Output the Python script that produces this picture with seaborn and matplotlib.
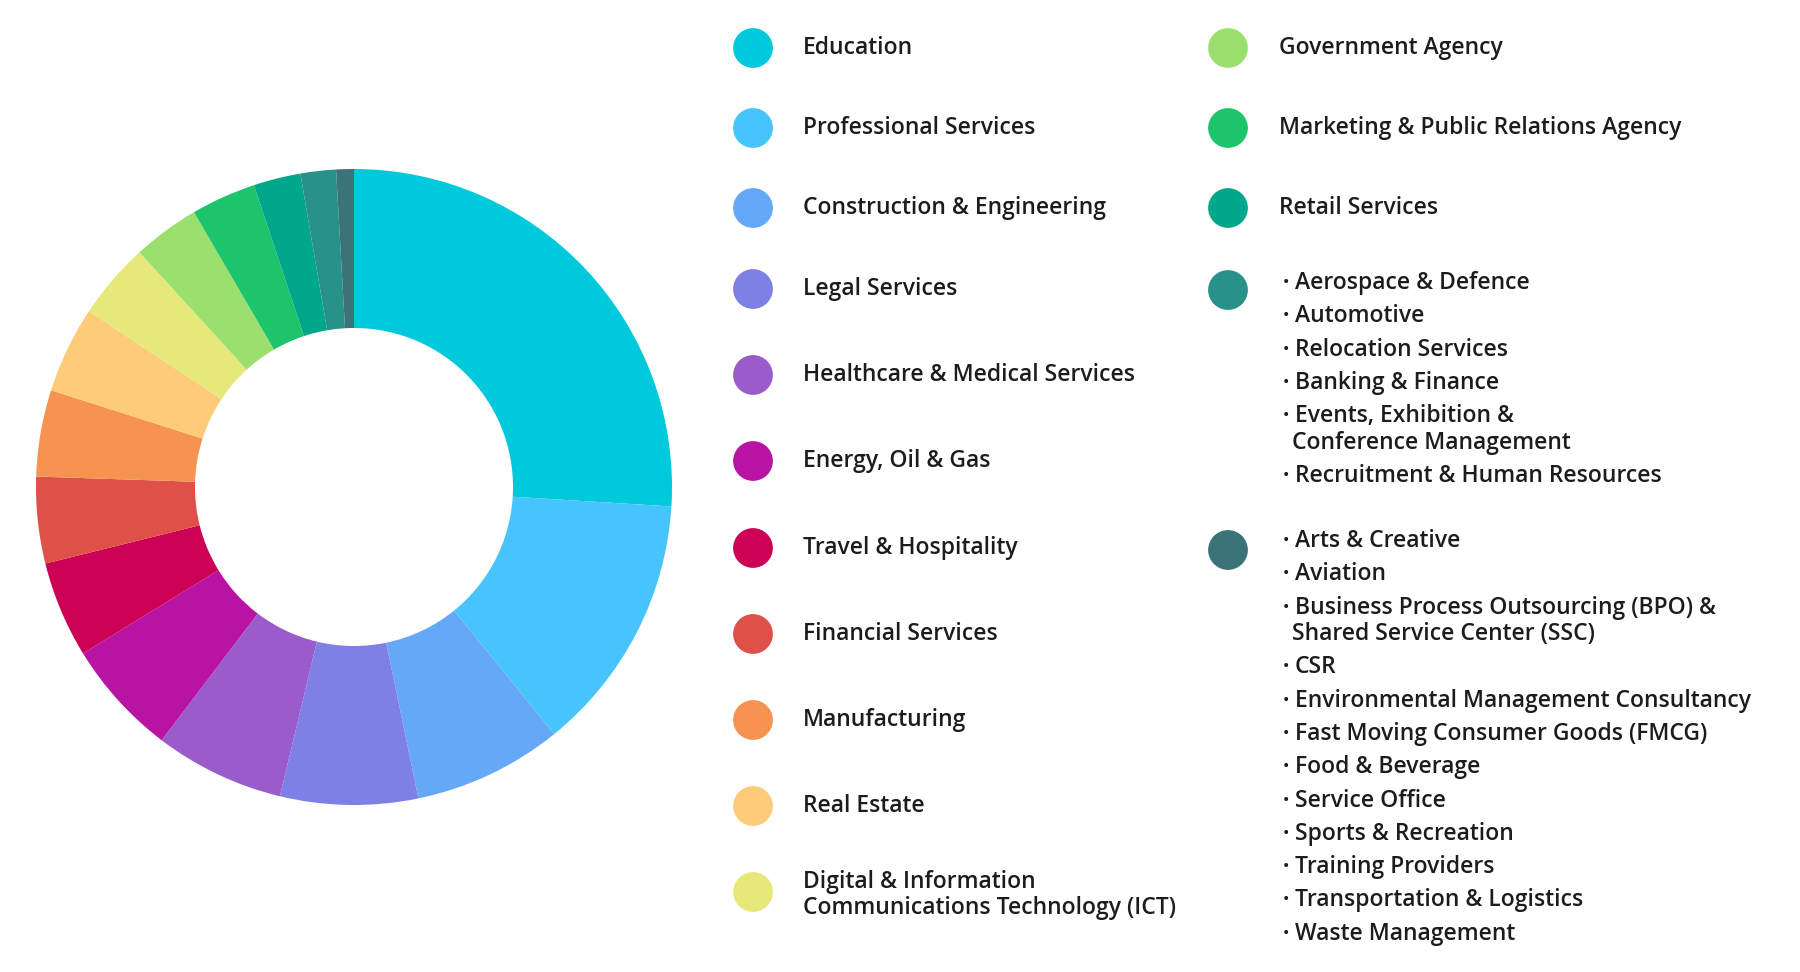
import matplotlib
matplotlib.use("Agg")
import matplotlib.pyplot as plt
import seaborn as sns
import pandas as pd

sns.set_theme(style="white")
plt.rcParams['font.family'] = ['Open Sans', 'DejaVu Sans']

industries = [
    "Education", "Professional Services", "Construction & Engineering",
    "Legal Services", "Healthcare & Medical Services", "Energy, Oil & Gas",
    "Travel & Hospitality", "Financial Services", "Manufacturing",
    "Real Estate", "Digital & Information\nCommunications Technology (ICT)",
    "Government Agency", "Marketing & Public Relations Agency",
    "Retail Services", "Other group A", "Other group B",
]
shares = [26.0, 13.2, 7.6, 7.0, 6.6, 5.9, 4.9, 4.4, 4.4, 4.4, 3.9,
          3.4, 3.3, 2.4, 1.8, 0.9]
colors = ["#00C9DB", "#48C4FC", "#65A8F7", "#7F80E5", "#9A5BCB", "#B813A3",
          "#CC0055", "#DF5048", "#F69350", "#FECB78", "#E6E87A",
          "#9BE06E", "#1DC46C", "#00A889", "#27918A", "#3A7378"]

group_a = ["Aerospace & Defence", "Automotive", "Relocation Services",
           "Banking & Finance", "Events, Exhibition &\nConference Management",
           "Recruitment & Human Resources"]
group_b = ["Arts & Creative", "Aviation",
           "Business Process Outsourcing (BPO) &\nShared Service Center (SSC)",
           "CSR", "Environmental Management Consultancy",
           "Fast Moving Consumer Goods (FMCG)", "Food & Beverage",
           "Service Office", "Sports & Recreation", "Training Providers",
           "Transportation & Logistics", "Waste Management"]

W, H = 1800, 972
fig = plt.figure(figsize=(W / 100, H / 100), dpi=100)
fig.patch.set_facecolor("white")

# donut
cx, cy, r = 354, 487, 318
ax = fig.add_axes([(cx - r) / W, (H - cy - r) / H, 2 * r / W, 2 * r / H])
ax.pie(shares, colors=colors, startangle=90, counterclock=False,
       wedgeprops=dict(width=0.5, linewidth=0, antialiased=True))
ax.set_xlim(-1, 1)
ax.set_ylim(-1, 1)
ax.set_aspect("equal")
ax.axis("off")

# legend drawn in pixel space
lax = fig.add_axes([0, 0, 1, 1])
lax.set_xlim(0, W)
lax.set_ylim(H, 0)
lax.axis("off")

TXT = "#1c1c1c"
FS = 16.5
left_rows = [48, 128, 208, 289, 375, 461, 548, 634, 720, 806, 892]
right_rows = [48, 128, 208, 290, 550]
dot_x = [753] * 11 + [1228] * 5

dots = pd.DataFrame({"x": dot_x, "y": left_rows + right_rows,
                     "name": industries})
sns.scatterplot(data=dots, x="x", y="y", hue="name", palette=colors,
                s=820, linewidth=0, legend=False, ax=lax)
lax.set_xlim(0, W)
lax.set_ylim(H, 0)
lax.set_xlabel("")
lax.set_ylabel("")

for i, name in enumerate(industries[:11]):
    lines = name.split("\n")
    y0 = left_rows[i] - 13 * (len(lines) - 1) + (3 if len(lines) > 1 else 0)
    for j, ln in enumerate(lines):
        lax.text(803, y0 + 26 * j, ln, fontsize=FS, fontweight="semibold",
                 color=TXT, va="center", ha="left")
for i, name in enumerate(industries[11:14]):
    lax.text(1279, right_rows[i], name, fontsize=FS, fontweight="semibold",
             color=TXT, va="center", ha="left")


def bullet_list(items, y):
    for it in items:
        lines = it.split("\n")
        lax.text(1283, y, "·", fontsize=FS, fontweight="bold", color=TXT,
                 va="center", ha="left")
        for j, ln in enumerate(lines):
            lax.text(1295 if j == 0 else 1292, y, ln, fontsize=FS,
                     fontweight="semibold", color=TXT, va="center", ha="left")
            if j < len(lines) - 1:
                y += 26.5
        y += 33.3


bullet_list(group_a, 283)
bullet_list(group_b, 541)

fig.savefig("out.png", dpi=100, facecolor="white")
